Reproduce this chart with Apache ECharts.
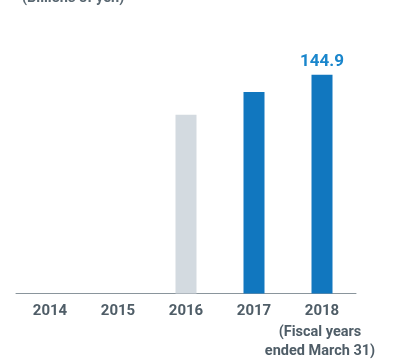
<!DOCTYPE html>
<html><head><meta charset="utf-8">
<script src="https://cdn.jsdelivr.net/npm/echarts@6/dist/echarts.min.js"></script>
<style>html,body{margin:0;padding:0;background:#fff}#c{width:393px;height:361px}</style>
</head><body><div id="c"></div>
<script>
const categories = ['2014', '2015', '2016', '2017', '2018'];
const values = [null, null, 118.4, 133.6, 144.9];
const barColors = ['#1177bf', '#1177bf', '#d3dae0', '#1177bf', '#1177bf'];
const unitLabel = '(Billions of yen)';
const noteLines = ['(Fiscal years', 'ended March 31)'];

const chart = echarts.init(document.getElementById('c'));
chart.setOption({
  animation: false,
  grid: {left: 16, right: 37, top: 40, bottom: 67.5},
  title: {text: unitLabel, left: 17, top: -14, textStyle: {fontFamily: 'Roboto', fontSize: 14.5, fontWeight: 'bold', color: '#5a6872'}},
  xAxis: {
    type: 'category', data: categories,
    axisLine: {lineStyle: {color: '#8a959c', width: 1}},
    axisTick: {show: false},
    axisLabel: {margin: 10, fontFamily: 'Roboto', fontSize: 15, fontWeight: 'bold', color: '#4f5d67'}
  },
  yAxis: {type: 'value', min: 0, max: 168, show: false, splitLine: {show: false}},
  graphic: [{
    type: 'text', x: 320, y: 323,
    style: {text: noteLines.join('\n'), font: 'bold 14.5px Roboto', fill: '#4f5d67', textAlign: 'center', lineHeight: 19}
  }],
  series: [{
    type: 'bar', barWidth: 21,
    data: values.map((v, i) => ({value: v, itemStyle: {color: barColors[i]},
      label: {show: i === values.length - 1}})),
    label: {position: 'top', distance: 5, formatter: p => p.value.toFixed(1), fontFamily: 'Roboto', fontSize: 17, fontWeight: 'bold', color: '#1a86cc'}
  }]
});
</script></body></html>
